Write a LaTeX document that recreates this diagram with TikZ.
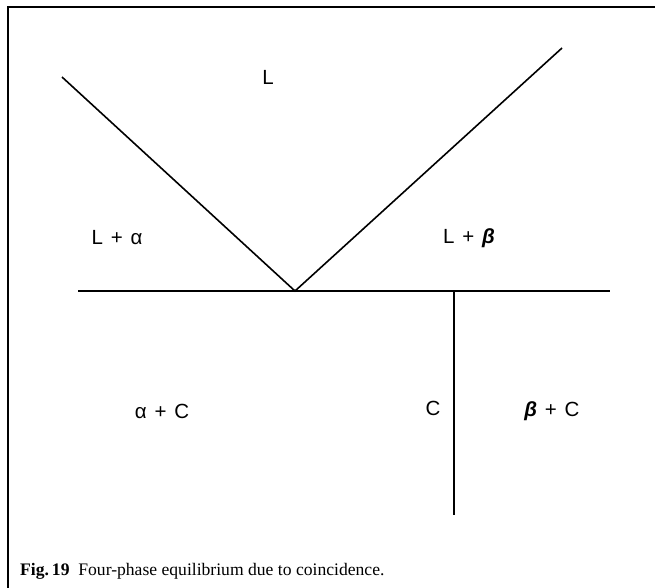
\documentclass[tikz,border=0pt]{standalone}
\usepackage{fontspec}
\setmainfont{Liberation Serif}
\setsansfont{Liberation Sans}
\usepackage{tikz}
\usetikzlibrary{positioning,calc}
\tikzset{phase/.style={font=\sffamily\fontsize{20.5}{23}\selectfont,inner sep=0pt},bound/.style={line width=1.6pt,draw=black},frame/.style={line width=2.4pt,draw=black}}
\newcommand{\bet}{\textbf{\textit{β}}}
\newcommand{\pl}{\hspace{0.38em}+\hspace{0.38em}}

\begin{document}
\begin{tikzpicture}[x=1pt,y=-1pt]
\useasboundingbox (0,0) rectangle (655,587);
\draw[frame] (8,588)--(8,7)--(655,7);
\coordinate (tl) at (62,77);
\coordinate (tr) at (562,48);
\coordinate (inv) at (295,291);
\coordinate (hl) at (78,291);
\coordinate (hr) at (610,291);
\coordinate (vt) at (454,291);
\coordinate (vb) at (454,515);
\draw[bound] (tl)--(inv)--(tr);
\draw[bound] (hl)--(hr);
\draw[bound] (vt)--(vb);
\node[phase] (liq) at (268,77) {L};
\node[phase] (la) at (117,238) {L\pl α};
\node[phase] (lb) at (469,238) {L\pl\bet};
\node[phase] (ac) at (162,411) {α\pl C};
\node[phase] (comp) at (433,408) {C};
\node[phase] (bc) at (552,411) {\bet\pl C};
\node[anchor=base west,font=\fontsize{17.6}{20}\selectfont,inner sep=0pt] (cap) at (20,575) {\textbf{Fig.\,19}\enspace Four-phase equilibrium due to coincidence.};
\end{tikzpicture}
\end{document}
